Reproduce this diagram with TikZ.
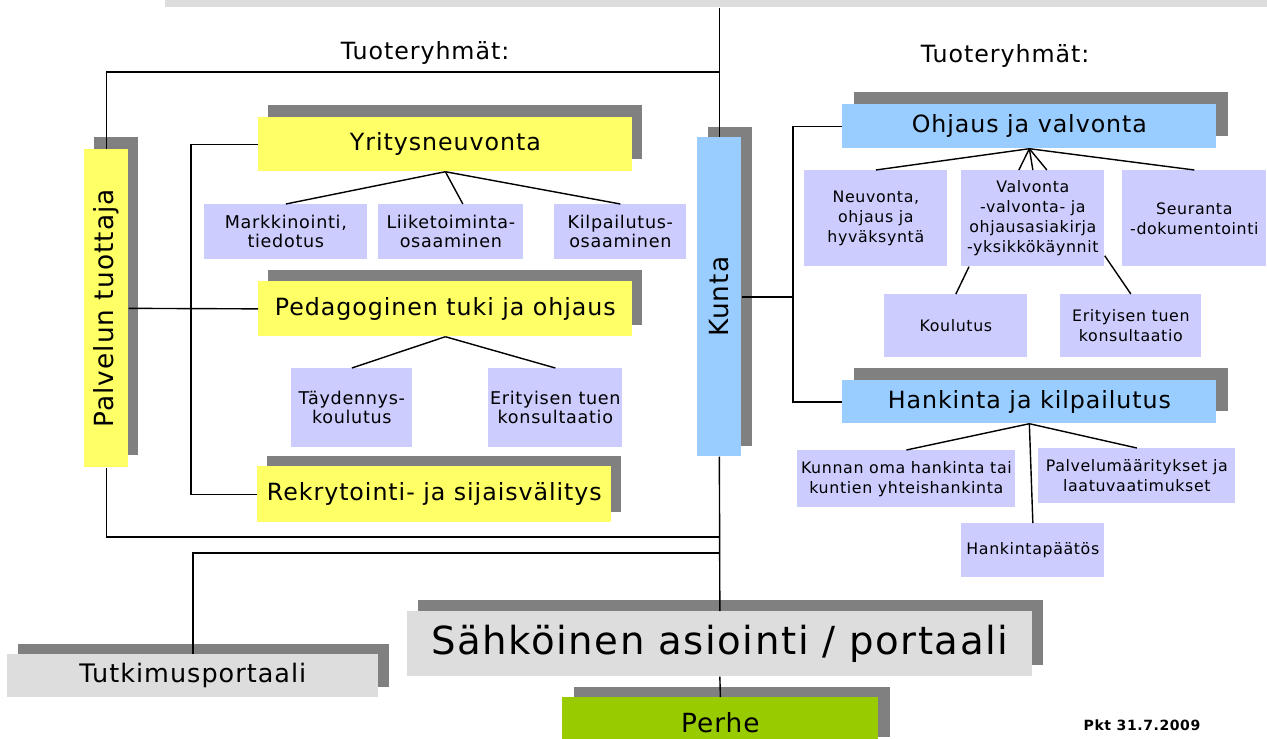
\documentclass[tikz,border=0pt]{standalone}
\usepackage{fontspec}
\setmainfont{DejaVu Sans}[LetterSpace=4]
\usetikzlibrary{shadows}
\newdimen\pxu \pxu=0.02cm
\definecolor{ylw}{HTML}{FFFF66}
\definecolor{shadowgray}{HTML}{808080}
\definecolor{lav}{HTML}{CCCCFF}
\definecolor{sky}{HTML}{99CCFF}
\definecolor{lgr}{HTML}{DDDDDD}
\definecolor{grn}{HTML}{99CC00}
\begin{document}
\begin{tikzpicture}[x=0.02cm,y=-0.02cm,
  box/.style={anchor=north west, inner sep=0pt, align=center},
  sz/.style 2 args={minimum width=#1\pxu, minimum height=#2\pxu},
  shadowed/.style 2 args={general shadow={fill=shadowgray, shadow xshift=#1\pxu, shadow yshift=#2\pxu}},
  yhead/.style={box, fill=ylw, font=\fontsize{13.5}{16}\selectfont},
  bhead/.style={box, fill=sky, font=\fontsize{13.5}{16}\selectfont},
  lsub/.style={box, fill=lav, font=\fontsize{10}{10.8}\selectfont},
  rsub/.style={box, fill=lav, font=\fontsize{9}{11.3}\selectfont},
  conn/.style={draw=black, line width=0.8pt},
  tuo/.style={inner sep=0pt, font=\fontsize{13.5}{16}\selectfont}]
\fill[white] (0,0) rectangle (1267,738);
\useasboundingbox (0,0) rectangle (1267,738);

% top band
\node[box, fill=lgr, sz={1110}{27}] (topbox) at (165,-20) {};

% titles
\node[tuo] (tuoL) at (425,53) {Tuoteryhmät:};
\node[tuo] (tuoR) at (1005,56) {Tuoteryhmät:};

% left side
\node[yhead, sz={44}{318}, shadowed={10}{12}, font=\fontsize{15}{18}\selectfont] (pt) at (84,149) {\rotatebox{90}{Palvelun tuottaja}};
\node[yhead, sz={374}{54}, shadowed={10}{12}] (yr) at (258,117) {Yritysneuvonta};
\node[lsub, sz={163}{55}] (mark) at (204,204) {Markkinointi,\\tiedotus};
\node[lsub, sz={145}{55}] (liik) at (378,204) {Liiketoiminta-\\osaaminen};
\node[lsub, sz={132}{55}] (kilp) at (554,204) {Kilpailutus-\\osaaminen};
\node[yhead, sz={374}{55}, shadowed={10}{11}] (ped) at (258,281) {Pedagoginen tuki ja ohjaus};
\node[lsub, sz={121}{79}] (tayd) at (291,368) {Täydennys-\\koulutus};
\node[lsub, sz={134}{79}] (eri1) at (488,368) {Erityisen tuen\\konsultaatio};
\node[yhead, sz={354}{56}, shadowed={10}{10}] (rek) at (257,466) {Rekrytointi- ja sijaisvälitys};

% centre
\node[bhead, sz={44}{319}, shadowed={11}{10}, font=\fontsize{15}{18}\selectfont] (kunta) at (697,137) {\rotatebox{90}{Kunta}};

% right side
\node[bhead, sz={374}{44}, shadowed={12}{12}] (ohj) at (842,104) {Ohjaus ja valvonta};
\node[rsub, sz={143}{96}] (neu) at (804,170) {Neuvonta,\\ohjaus ja\\hyväksyntä};
\node[rsub, sz={143}{96}] (val) at (961,170) {Valvonta\\-valvonta- ja\\ohjausasiakirja\\-yksikkökäynnit};
\node[rsub, sz={144}{96}] (seu) at (1122,170) {Seuranta\\-dokumentointi};
\node[rsub, sz={143}{63}] (kou) at (884,294) {Koulutus};
\node[rsub, sz={141}{63}] (eri2) at (1060,294) {Erityisen tuen\\konsultaatio};
\node[bhead, sz={374}{43}, shadowed={12}{12}] (han) at (842,380) {Hankinta ja kilpailutus};
\node[rsub, sz={218}{57}] (kun) at (797,450) {Kunnan oma hankinta tai\\kuntien yhteishankinta};
\node[rsub, sz={197}{55}] (pal) at (1038,448) {Palvelumääritykset ja\\laatuvaatimukset};
\node[rsub, sz={143}{54}] (hpa) at (961,523) {Hankintapäätös};

% bottom
\node[box, fill=lgr, sz={625}{65}, shadowed={11}{11}, font=\fontsize{22}{26}\selectfont] (sah) at (407,611) {Sähköinen asiointi / portaali};
\node[box, fill=lgr, sz={371}{43}, shadowed={11}{10}, font=\fontsize{14.5}{17}\selectfont] (tut) at (7,654) {Tutkimusportaali};
\node[box, fill=grn, sz={316}{50}, shadowed={12}{10}, font=\fontsize{15}{18}\selectfont] (per) at (562,697) {\raisebox{-4pt}{Perhe}};
\node[inner sep=0pt, font=\bfseries\fontsize{8}{9}\selectfont] (pkt) at (1142,725) {Pkt 31.7.2009};

% connectors
\coordinate (jt) at (719,72);
\coordinate (jb) at (719,537);
\coordinate (jc) at (719,553);
\coordinate (lb) at (191,0);
\coordinate (rb) at (793,0);

\draw[conn] (topbox.south -| kunta.north) -- (kunta.north);
\draw[conn] (jt) -| (pt.north);
\draw[conn] (pt.south) |- (jb);
\draw[conn] (kunta.south) -- (sah.north);
\draw[conn] (jc) -| (tut.north);
\draw[conn] (sah.south) -- (per.north);

\draw[conn] (pt.east) -- (ped.west);
\draw[conn] (yr.west) -- (yr.west -| lb) -- (rek.west -| lb) -- (rek.west);
\draw[conn] (yr.south) -- (mark.north);
\draw[conn] (yr.south) -- ([xshift=12\pxu]liik.north);
\draw[conn] (yr.south) -- (kilp.north);
\draw[conn] (ped.south) -- (tayd.north);
\draw[conn] (ped.south) -- (eri1.north);

\draw[conn] (kunta.east) -- (kunta.east -| rb);
\draw[conn] (ohj.west) -- (ohj.west -| rb) -- (han.west -| rb) -- (han.west);
\draw[conn] (ohj.south) -- (neu.north);
\draw[conn] (ohj.south) -- ([xshift=-14\pxu]val.north);
\draw[conn] (ohj.south) -- (val.north);
\draw[conn] (ohj.south) -- ([xshift=14\pxu]val.north);
\draw[conn] (ohj.south) -- (seu.north);
\draw[conn] ([xshift=8\pxu]val.south west) -- (kou.north);
\draw[conn] ([yshift=11\pxu]val.south east) -- (eri2.north);
\draw[conn] (han.south) -- (kun.north);
\draw[conn] (han.south) -- (pal.north);
\draw[conn] (han.south) -- (hpa.north);
\end{tikzpicture}
\end{document}
